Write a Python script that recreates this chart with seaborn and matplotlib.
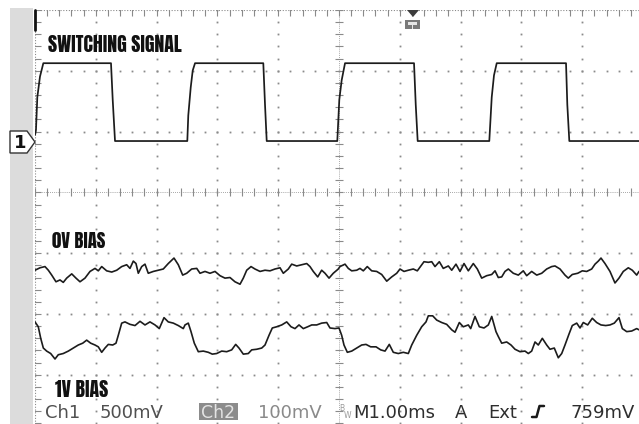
import os
import numpy as np
import matplotlib
matplotlib.use("Agg")
import matplotlib.pyplot as plt
from matplotlib import font_manager as fm
from matplotlib.patches import Rectangle, Polygon
from matplotlib.lines import Line2D
import seaborn as sns

# ---------------- data (time in ms, 1 ms/div) ----------------
# Channel 1: switching signal (volts, 500 mV/div)
SW_T = [0.0, 0.016, 0.038, 0.082, 0.137, 1.250, 1.278, 1.316,
        2.505, 2.521, 2.561, 2.594, 2.632, 3.755, 3.783, 3.811,
        4.972, 5.005, 5.044, 5.099, 6.234, 6.262, 6.294,
        7.472, 7.512, 7.549, 7.594, 8.734, 8.755, 8.788, 9.934]
SW_V = [0.05, 0.09, 0.36, 0.53, 0.64, 0.64, 0.34, 0.0,
        0.0, 0.21, 0.44, 0.58, 0.64, 0.64, 0.30, 0.0,
        0.0, 0.34, 0.50, 0.64, 0.64, 0.30, 0.0,
        0.0, 0.36, 0.54, 0.64, 0.64, 0.30, 0.0, 0.0]

# Channel 2, 0 V bias (mV relative to screen centre, 100 mV/div)
ZERO_T = [0.000, 0.082, 0.164, 0.219, 0.275, 0.345, 0.411, 0.465, 0.521, 0.604,
          0.674, 0.740, 0.822, 0.905, 0.987, 1.041, 1.097, 1.179, 1.262, 1.344,
          1.426, 1.508, 1.562, 1.617, 1.661, 1.699, 1.755, 1.809, 1.863, 1.946,
          2.028, 2.110, 2.192, 2.286, 2.357, 2.429, 2.495, 2.577, 2.660, 2.714,
          2.796, 2.878, 2.961, 3.043, 3.125, 3.207, 3.289, 3.372, 3.426, 3.482,
          3.553, 3.618, 3.701, 3.783, 3.865, 3.947, 4.030, 4.084, 4.166, 4.222,
          4.304, 4.386, 4.469, 4.523, 4.577, 4.650, 4.715, 4.770, 4.836, 4.906,
          4.988, 5.016, 5.099, 5.153, 5.209, 5.291, 5.345, 5.400, 5.465, 5.538,
          5.620, 5.702, 5.785, 5.867, 5.949, 6.003, 6.069, 6.140, 6.222, 6.288,
          6.360, 6.398, 6.469, 6.525, 6.579, 6.650, 6.715, 6.798, 6.854, 6.924,
          6.990, 7.056, 7.127, 7.209, 7.275, 7.347, 7.429, 7.512, 7.566, 7.620,
          7.676, 7.730, 7.785, 7.867, 7.949, 8.031, 8.087, 8.169, 8.252, 8.334,
          8.416, 8.498, 8.553, 8.635, 8.717, 8.771, 8.837, 8.926, 9.002, 9.074,
          9.156, 9.211, 9.265, 9.309, 9.375, 9.457, 9.539, 9.605, 9.676, 9.758,
          9.824, 9.896, 9.934]
ZERO_MV = [-128, -124, -122, -128, -136, -147, -144, -148, -141, -134,
           -141, -147, -141, -130, -125, -129, -122, -129, -131, -128,
           -122, -119, -125, -113, -117, -133, -122, -118, -133, -130,
           -128, -126, -117, -108, -119, -136, -133, -126, -125, -133,
           -130, -133, -130, -137, -141, -140, -147, -151, -141, -128,
           -122, -126, -130, -128, -129, -126, -124, -133, -126, -118,
           -121, -119, -117, -122, -130, -139, -128, -133, -141, -133,
           -126, -122, -118, -125, -129, -128, -125, -129, -122, -129,
           -130, -135, -146, -139, -133, -126, -130, -128, -126, -129,
           -119, -114, -115, -114, -122, -114, -125, -121, -128, -118,
           -130, -117, -129, -117, -126, -141, -137, -135, -129, -140,
           -139, -130, -126, -133, -136, -129, -137, -130, -136, -133,
           -126, -122, -121, -126, -136, -141, -135, -133, -129, -130,
           -126, -118, -113, -108, -117, -130, -149, -141, -130, -124,
           -128, -136, -130]

# Channel 2, 1 V bias (mV relative to screen centre, 100 mV/div)
ONE_T = [0.000, 0.054, 0.094, 0.137, 0.192, 0.258, 0.329, 0.383, 0.465, 0.548,
         0.630, 0.712, 0.785, 0.850, 0.916, 0.987, 1.041, 1.097, 1.151, 1.206,
         1.278, 1.332, 1.370, 1.426, 1.480, 1.562, 1.645, 1.727, 1.809, 1.891,
         1.974, 2.044, 2.122, 2.192, 2.275, 2.357, 2.439, 2.467, 2.521, 2.566,
         2.620, 2.686, 2.768, 2.850, 2.916, 2.988, 3.071, 3.153, 3.235, 3.301,
         3.355, 3.426, 3.508, 3.564, 3.646, 3.729, 3.783, 3.849, 3.903, 3.975,
         4.058, 4.140, 4.211, 4.276, 4.342, 4.413, 4.485, 4.551, 4.633, 4.715,
         4.798, 4.852, 4.934, 5.000, 5.044, 5.082, 5.137, 5.209, 5.291, 5.373,
         5.444, 5.521, 5.609, 5.686, 5.757, 5.827, 5.893, 5.975, 6.058, 6.140,
         6.196, 6.278, 6.360, 6.431, 6.469, 6.541, 6.607, 6.689, 6.771, 6.854,
         6.908, 6.979, 7.044, 7.127, 7.166, 7.237, 7.308, 7.385, 7.456, 7.512,
         7.582, 7.620, 7.676, 7.758, 7.829, 7.895, 7.977, 8.059, 8.114, 8.169,
         8.224, 8.278, 8.344, 8.416, 8.470, 8.541, 8.607, 8.663, 8.717, 8.783,
         8.837, 8.910, 8.964, 9.018, 9.090, 9.166, 9.238, 9.309, 9.387, 9.457,
         9.528, 9.605, 9.660, 9.732, 9.814, 9.896, 9.934]
ONE_MV = [-213, -221, -240, -256, -261, -265, -274, -267, -265, -261,
          -256, -251, -248, -243, -248, -251, -254, -263, -256, -250,
          -251, -248, -235, -215, -213, -217, -219, -212, -218, -213,
          -218, -224, -206, -213, -215, -219, -224, -218, -215, -229,
          -248, -262, -261, -263, -266, -265, -261, -262, -259, -250,
          -256, -266, -265, -259, -258, -256, -251, -235, -223, -221,
          -218, -213, -221, -224, -218, -224, -221, -218, -218, -215,
          -214, -223, -224, -223, -235, -251, -263, -261, -256, -251,
          -250, -254, -254, -259, -261, -250, -263, -265, -263, -265,
          -251, -235, -221, -213, -203, -203, -210, -214, -217, -226,
          -230, -214, -221, -218, -224, -204, -221, -223, -218, -204,
          -229, -237, -248, -246, -251, -258, -262, -261, -265, -261,
          -246, -251, -240, -251, -258, -256, -272, -265, -251, -233,
          -219, -215, -223, -214, -218, -207, -214, -218, -219, -218,
          -215, -206, -224, -229, -228, -224, -226]

LABELS = ["SWITCHING SIGNAL", "0V BIAS", "1V BIAS"]
STATUS = ["Ch1", "500mV", "Ch2", "100mV", "M1.00ms", "A", "Ext", "759mV"]

# scope settings
CH1_V_PER_DIV = 0.5
CH1_GND_DIV = 0.845
CH2_MV_PER_DIV = 100.0

# ---------------- figure ----------------
sns.set_style("white")
plt.rcParams["font.family"] = ["DejaVu Sans"]

W, H = 639, 424
fig = plt.figure(figsize=(W / 100, H / 100), dpi=100)
fig.patch.set_facecolor("white")


def fx(px):
    return px / W


def fy(py):
    return 1 - py / H


# left grey bezel strip
fig.add_artist(Rectangle((fx(10), 0), fx(33) - fx(10), fy(8), transform=fig.transFigure,
                         facecolor="#dcdcdc", edgecolor="none", zorder=0))

ax = fig.add_axes([fx(35), 0, fx(639) - fx(35), fy(10)])
ax.set_xlim(0, 604 / 60.8)
ax.set_ylim(-(424 - 192.4) / 60.8, 3)
ax.set_facecolor("white")
for s in ax.spines.values():
    s.set_visible(False)
ax.set_xticks([])
ax.set_yticks([])

GRID_C = "#8a8a8a"
xs_fine = np.arange(0, 10.01, 0.2)
ys_fine = np.arange(-3.8, 3.01, 0.2)

# dotted graticule rows / columns
for gy in (-3, -2, -1, 1, 2):
    ax.plot(xs_fine, np.full_like(xs_fine, gy), ls="none", marker="s", ms=1.3,
            mew=0, color=GRID_C, zorder=1)
for gx in (1, 2, 3, 4, 6, 7, 8, 9):
    ax.plot(np.full_like(ys_fine, gx), ys_fine, ls="none", marker="s", ms=1.3,
            mew=0, color=GRID_C, zorder=1)

# centre axes with tick marks
ax.axhline(0, ls=(0, (1, 1.5)), lw=0.6, color=GRID_C, zorder=1)
ax.plot(xs_fine, np.zeros_like(xs_fine), ls="none", marker="|", ms=6, mew=0.8,
        color=GRID_C, zorder=1)
ax.axvline(5, ls=(0, (1, 1.5)), lw=0.6, color=GRID_C, zorder=1)
ax.plot(np.full_like(ys_fine, 5), ys_fine, ls="none", marker="_", ms=6, mew=0.8,
        color=GRID_C, zorder=1)
# top edge and left edge
ax.axhline(3, ls=(0, (1, 1.5)), lw=0.8, color=GRID_C, zorder=1)
ax.plot(xs_fine, np.full_like(xs_fine, 3), ls="none", marker="|", ms=8, mew=0.8,
        color=GRID_C, zorder=1)
ax.axvline(0, ls=(0, (1, 1.5)), lw=0.8, color=GRID_C, zorder=1)
ax.plot(np.zeros_like(ys_fine), ys_fine, ls="none", marker="_", ms=8, mew=0.8,
        color=GRID_C, zorder=1)
ax.plot([0, 0], [3, 2.67], lw=2.0, color="#111111", clip_on=False, zorder=3)

# ---------------- traces ----------------
TRACE_C = "#1c1c1c"
sns.lineplot(x=SW_T, y=np.array(SW_V) / CH1_V_PER_DIV + CH1_GND_DIV, ax=ax,
             estimator=None, sort=False, color=TRACE_C, lw=1.25, zorder=4)
sns.lineplot(x=ZERO_T, y=np.array(ZERO_MV) / CH2_MV_PER_DIV, ax=ax,
             estimator=None, sort=False, color=TRACE_C, lw=1.2, zorder=4)
sns.lineplot(x=ONE_T, y=np.array(ONE_MV) / CH2_MV_PER_DIV, ax=ax,
             estimator=None, sort=False, color=TRACE_C, lw=1.2, zorder=4)
ax.set_xlabel("")
ax.set_ylabel("")


# ---------------- heading font (heavy condensed) ----------------
def pick_heading_font():
    prefs = [("Anton-Regular.", 0.86), ("LeagueGothic", 0.73),
             ("BarlowCondensed-ExtraBold.", 0.70)]
    for p, cap in prefs:
        for f in fm.fontManager.ttflist:
            if os.path.basename(f.fname).startswith(p):
                return fm.FontProperties(fname=f.fname), cap
    return fm.FontProperties(family="DejaVu Sans", weight="bold", stretch="condensed"), 0.73


HF, HCAP = pick_heading_font()


def htext(px, py, s, cap_px):
    fp = HF.copy()
    fp.set_size(cap_px / HCAP * 0.72)
    fig.text(fx(px), fy(py), s, fontproperties=fp, color="#111111",
             ha="left", va="baseline", zorder=6)


htext(48, 52, LABELS[0], 17)
htext(52, 248, LABELS[1], 16)
htext(55, 397, LABELS[2], 17)

# ---------------- channel 1 marker ----------------
fig.add_artist(Polygon([(fx(10), fy(131)), (fx(27), fy(131)), (fx(35), fy(142)),
                        (fx(27), fy(153)), (fx(10), fy(153))], closed=True,
                       transform=fig.transFigure, facecolor="white",
                       edgecolor="#333333", lw=1.0, zorder=5))
fig.text(fx(20), fy(143), "1", fontsize=13, fontweight="bold", color="#111111",
         ha="center", va="center", zorder=6)

# ---------------- trigger position marker ----------------
fig.add_artist(Polygon([(fx(407), fy(10)), (fx(419), fy(10)), (fx(413), fy(17))],
                       closed=True, transform=fig.transFigure, facecolor="#3c3c3c",
                       edgecolor="none", zorder=5))
fig.add_artist(Rectangle((fx(405), fy(29)), fx(420) - fx(405), fy(20) - fy(29),
                         transform=fig.transFigure, facecolor="#7a7a7a",
                         edgecolor="none", zorder=5))
fig.add_artist(Rectangle((fx(408), fy(25)), fx(417) - fx(408), fy(22) - fy(25),
                         transform=fig.transFigure, facecolor="#e6e6e6",
                         edgecolor="none", zorder=5))
fig.add_artist(Rectangle((fx(412), fy(29)), fx(413) - fx(412), fy(22) - fy(29),
                         transform=fig.transFigure, facecolor="#e6e6e6",
                         edgecolor="none", zorder=5))

# ---------------- status line ----------------
SF = 13
BASE = 418
fig.text(fx(45), fy(BASE), STATUS[0], fontsize=SF, color="#505050", va="baseline")
fig.text(fx(100), fy(BASE), STATUS[1], fontsize=SF, color="#505050", va="baseline")
fig.add_artist(Rectangle((fx(199), fy(420)), fx(238) - fx(199), fy(403) - fy(420),
                         transform=fig.transFigure, facecolor="#8c8c8c",
                         edgecolor="none", zorder=5))
fig.text(fx(201), fy(BASE), STATUS[2], fontsize=12.5, color="#e4e4e4", va="baseline",
         zorder=6)
fig.text(fx(258), fy(BASE), STATUS[3], fontsize=SF, color="#8a8a8a", va="baseline")
fig.text(fx(339.5), fy(411), "B", fontsize=5.5, color="#9a9a9a", va="baseline")
fig.text(fx(344), fy(418), "W", fontsize=5.5, color="#9a9a9a", va="baseline")
fig.text(fx(353), fy(BASE), STATUS[4], fontsize=SF, color="#2e2e2e", va="baseline")
fig.text(fx(455), fy(BASE), STATUS[5], fontsize=SF, color="#2e2e2e", va="baseline")
fig.text(fx(488), fy(BASE), STATUS[6], fontsize=SF, color="#2e2e2e", va="baseline")
fig.add_artist(Line2D([fx(532), fx(536.5), fx(539.5), fx(544)],
                      [fy(417), fy(417), fy(406), fy(406)],
                      transform=fig.transFigure, color="#1a1a1a", lw=1.8, zorder=6))
fig.text(fx(570), fy(BASE), STATUS[7], fontsize=SF, color="#2e2e2e", va="baseline")

fig.savefig("out.png", dpi=100)
